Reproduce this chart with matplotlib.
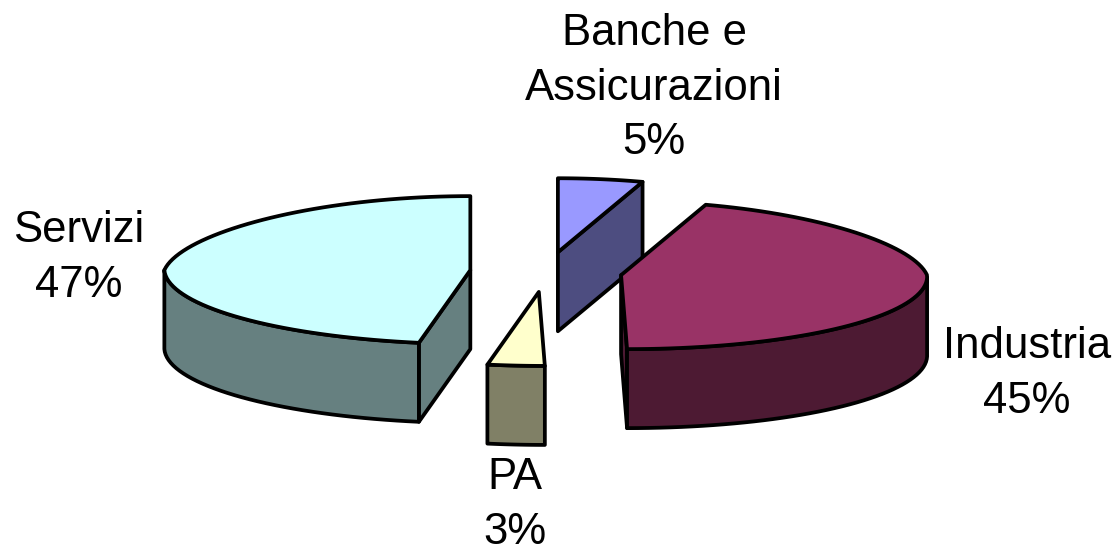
import numpy as np
import matplotlib
matplotlib.use('Agg')
import matplotlib.pyplot as plt
from matplotlib.patches import Polygon

plt.rcParams['font.family'] = ['Liberation Sans', 'DejaVu Sans']

# slices in clockwise order, starting from 12 o'clock
labels = ['Banche e\nAssicurazioni', 'Industria', 'PA', 'Servizi']
values = [5, 45, 3, 47]
top_colors = ['#9999FF', '#993366', '#FFFFCC', '#CCFFFF']
side_colors = ['#4D4D80', '#4D1A33', '#808066', '#668080']
label_pos = [(654, 88), (1027, 374), (515, 505), (79, 258)]

# pie layout, in pixels
cx, cy = 546, 272
rx, ry = 306, 74
depth = 79
explode_x, explode_y = 76, 20
line_w = 2.7


def project(center, deg):
    a = np.radians(deg)
    # far side a bit narrower, near side leaning right (the chart's perspective)
    x = rx * np.sin(a) * (1 - 0.11 * np.maximum(np.cos(a), 0))
    x = x - 6 * np.minimum(np.cos(a), 0)
    y = -ry * np.cos(a)
    return np.column_stack([center[0] + x, center[1] + y])


def draw_side(ax, pts, color):
    down = pts[::-1] + [0, depth]
    ax.add_patch(Polygon(np.vstack([pts, down]), closed=True, facecolor=color,
                         edgecolor='black', lw=line_w, joinstyle='round'))


def draw_slice(ax, start, end, top, side):
    mid = np.radians((start + end) / 2)
    center = (cx + explode_x * np.sin(mid), cy - explode_y * np.cos(mid))
    center_pt = np.array([center])
    arc = project(center, np.linspace(start, end, 80))

    # only faces turned towards the viewer: on a clockwise outline they run leftwards
    first = np.vstack([center_pt, arc[:1]])
    last = np.vstack([arc[-1:], center_pt])
    if first[1, 0] < first[0, 0] - 0.5:
        draw_side(ax, first, side)
    if last[1, 0] < last[0, 0] - 0.5:
        draw_side(ax, last, side)
    left = np.diff(arc[:, 0]) < 0
    keep = np.r_[left, False] | np.r_[False, left]
    if keep.any():
        draw_side(ax, arc[keep], side)

    ax.add_patch(Polygon(np.vstack([center_pt, arc]), closed=True, facecolor=top,
                         edgecolor='black', lw=line_w, joinstyle='round'))


fig = plt.figure(figsize=(11.18, 5.53), dpi=100)
ax = fig.add_axes([0, 0, 1, 1])
ax.set_xlim(0, 1118)
ax.set_ylim(553, 0)
ax.axis('off')

edges = np.concatenate([[0], np.cumsum(values)]) * 360 / sum(values)

# far slices first
for i in [0, 3, 1, 2]:
    draw_slice(ax, edges[i], edges[i + 1], top_colors[i], side_colors[i])

for i in range(len(values)):
    ax.text(label_pos[i][0], label_pos[i][1], f'{labels[i]}\n{values[i]}%',
            ha='center', va='center', fontsize=31.5, linespacing=1.43, color='black')

fig.savefig('out.png', dpi=100)
